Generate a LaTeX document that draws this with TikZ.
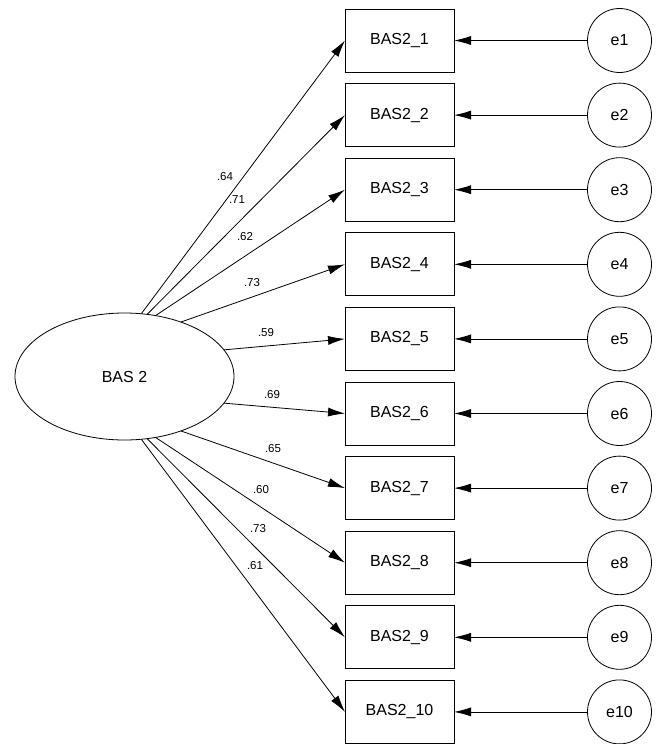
\documentclass[tikz,border=0pt]{standalone}
\usepackage{fontspec}
\setmainfont{Liberation Sans}
\usetikzlibrary{arrows.meta,positioning,shapes.geometric}

\begin{document}
\begin{tikzpicture}[x=1pt,y=-1pt,
    obs/.style={draw,rectangle,line width=0.8pt,minimum width=109pt,minimum height=63pt,
      inner sep=0pt,outer sep=0pt,font=\fontsize{16}{16}\selectfont},
    err/.style={draw,circle,line width=0.8pt,minimum size=64pt,inner sep=0pt,outer sep=0pt,
      font=\fontsize{16}{16}\selectfont},
    load/.style={-{Latex[length=17pt,width=9pt]},line width=0.8pt},
    coef/.style={font=\fontsize{11.5}{11.5}\selectfont,inner sep=0pt}]
  \useasboundingbox (0,0) rectangle (659,744);
  \node[draw,ellipse,line width=0.8pt,minimum width=219pt,minimum height=127pt,
    inner sep=0pt,outer sep=0pt,font=\fontsize{16}{16}\selectfont] (bas) at (124.5,376.5) {BAS 2};
  % indicators and their errors
  \foreach \i in {1,...,10} {
    \node[obs] (b\i) at (399.5,{40.5+(\i-1)*74.6}) {BAS2\_\i};
    \node[err] (e\i) at (619.5,{40.5+(\i-1)*74.6}) {e\i};
    \draw[load] (e\i) -- (b\i);
  }
  % loadings
  \foreach \i/\ang/\lx/\ly/\val in {1/75/225/177/.64, 2/70/237/200/.71, 3/63/245/237/.62,
      4/44/252/283/.73, 5/15/266/333/.59, 6/-15/272/395/.69, 7/-44/273/449/.65,
      8/-63/261/490/.60, 9/-70/258/529/.73, 10/-75/255/566/.61} {
    \draw[load] (bas.\ang) -- (b\i.west);
    \node[coef] (c\i) at (\lx,\ly) {\val};
  }
\end{tikzpicture}
\end{document}
